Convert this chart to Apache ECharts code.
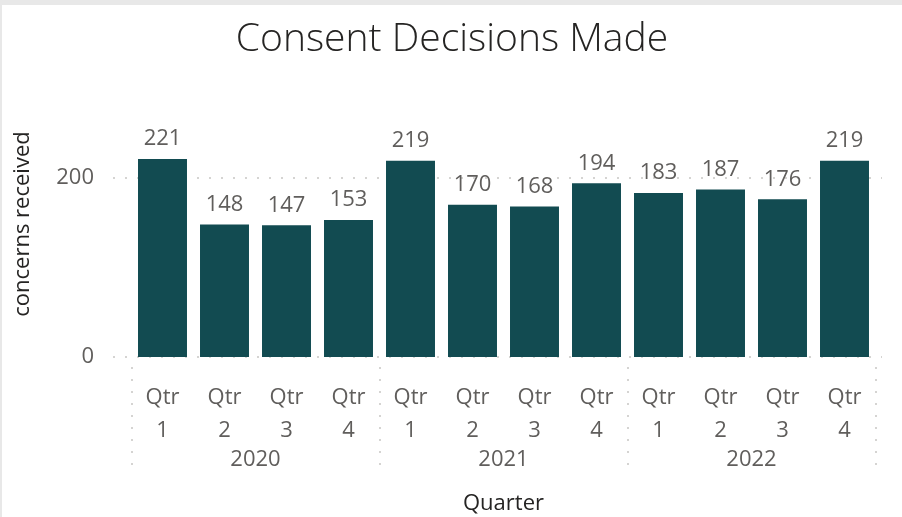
<!DOCTYPE html>
<html>
<head>
<meta charset="utf-8">
<script src="https://cdn.jsdelivr.net/npm/echarts@6/dist/echarts.min.js"></script>
<style>
  html, body { margin: 0; padding: 0; background: #e8e8e8; }
  #main { position: absolute; left: 2px; top: 5px; width: 900px; height: 512px; background: #fff; }
</style>
</head>
<body>
<div id="main"></div>
<script>
var years = ["2020", "2021", "2022"];
var quarters = ["Qtr 1", "Qtr 2", "Qtr 3", "Qtr 4"];
var decisions = [221, 148, 147, 153, 219, 170, 168, 194, 183, 187, 176, 219];
var yTicks = [0, 200];

var textColor = "#605E5C";
var darkText = "#252423";
var fontName = "'Open Sans', 'Noto Sans', sans-serif";

// one category per quarter of each year
var categories = [];
for (var y = 0; y < years.length; y++) {
  for (var q = 0; q < quarters.length; q++) {
    categories.push(quarters[q].replace(" ", "\n"));
  }
}

var myChart = echarts.init(document.getElementById("main"));
var dots = { color: "#c8c6c4", width: 1.5, type: [2, 10] };

var option = {
  animation: false,
  textStyle: { fontFamily: fontName },
  title: {
    text: "Consent Decisions Made",
    left: "center",
    top: 10,
    textStyle: { fontSize: 39, fontWeight: 300, color: darkText, fontFamily: fontName }
  },
  grid: [
    // bars
    { left: 129.5, right: 26.5, top: 86, bottom: 160, outerBoundsMode: "none" },
    // gridlines
    { left: 111, right: 20, top: -6, bottom: 160, outerBoundsMode: "none" }
  ],
  xAxis: [
    {
      type: "category",
      gridIndex: 0,
      data: categories,
      axisLine: { show: false },
      axisTick: { show: false },
      axisLabel: { color: textColor, fontSize: 22, lineHeight: 33, margin: 24, interval: 0 }
    },
    {
      type: "category",
      gridIndex: 0,
      position: "bottom",
      offset: 10,
      data: years,
      axisLine: { show: false },
      axisTick: { show: true, length: 108, lineStyle: dots },
      axisLabel: { color: textColor, fontSize: 22, margin: 82 },
      name: "Quarter",
      nameLocation: "middle",
      nameGap: 126,
      nameTextStyle: { color: darkText, fontSize: 22 }
    },
    {
      type: "value",
      gridIndex: 1,
      show: false
    }
  ],
  yAxis: [
    {
      type: "value",
      gridIndex: 0,
      min: 0,
      max: 297,
      axisLine: { show: false },
      axisTick: { show: false },
      axisLabel: { show: false },
      splitLine: { show: false },
      name: "concerns received",
      nameLocation: "middle",
      nameGap: 98,
      nameTextStyle: { color: darkText, fontSize: 22 }
    },
    {
      type: "value",
      gridIndex: 1,
      min: yTicks[0],
      max: 400,
      interval: yTicks[1] - yTicks[0],
      axisLine: { show: false },
      axisTick: { show: false },
      axisLabel: { color: textColor, fontSize: 22, margin: 19, showMaxLabel: false },
      splitLine: { show: true, lineStyle: dots }
    }
  ],
  series: [{
    name: "concerns received",
    type: "bar",
    xAxisIndex: 0,
    yAxisIndex: 0,
    data: decisions,
    barCategoryGap: "21%",
    itemStyle: { color: "#124B51" },
    label: {
      show: true,
      position: "top",
      distance: 9,
      color: textColor,
      fontSize: 22
    }
  }]
};
myChart.setOption(option);
</script>
</body>
</html>
